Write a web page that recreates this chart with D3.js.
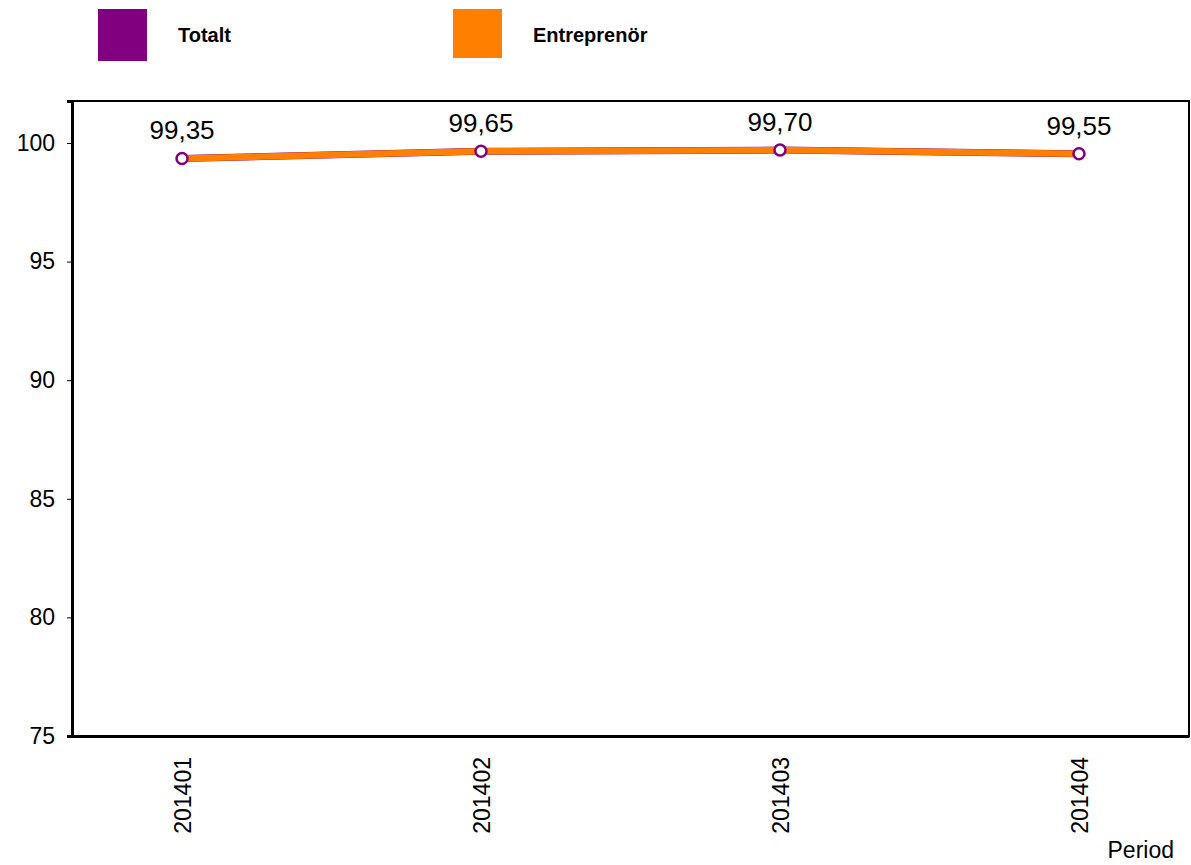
<!DOCTYPE html>
<html>
<head>
<meta charset="utf-8">
<script src="https://cdn.jsdelivr.net/npm/d3@7"></script>
<style>
  body { margin: 0; background: #fff; }
  text { font-family: "Liberation Sans", Arial, sans-serif; }
</style>
</head>
<body>
<div id="chart"></div>
<script>
const periods = ["201401", "201402", "201403", "201404"];
const totalt = [99.35, 99.65, 99.70, 99.55];
const entreprenor = [99.35, 99.65, 99.70, 99.55];
const yTicks = [75, 80, 85, 90, 95, 100];
const seriesNames = ["Totalt", "Entreprenör"];
const seriesColors = ["#800080", "#ff8000"];

const width = 1191, height = 865;
const margin = { top: 101, right: 2, bottom: 129, left: 72 };

const svg = d3.select("#chart")
    .append("svg")
    .attr("width", width)
    .attr("height", height);

const x = d3.scalePoint()
    .domain(periods)
    .range([margin.left, width - margin.right])
    .padding(0.368);

const y = d3.scaleLinear()
    .domain([75, 101.77])
    .range([height - margin.bottom, margin.top]);

// frame
svg.append("rect")
    .attr("x", margin.left)
    .attr("y", margin.top)
    .attr("width", width - margin.right - margin.left)
    .attr("height", height - margin.bottom - margin.top)
    .attr("fill", "none")
    .attr("stroke", "#000")
    .attr("stroke-width", 2);

// y axis
const yAxis = svg.append("g")
    .attr("transform", `translate(${margin.left},0)`)
    .call(d3.axisLeft(y).tickValues(yTicks).tickSize(5).tickPadding(12).tickFormat(d3.format("d")));
yAxis.select(".domain").attr("stroke-width", 3);
yAxis.selectAll("text").attr("font-size", 23).attr("fill", "#000")
    .style("font-family", '"Liberation Sans", Arial, sans-serif');

// x axis
const xAxis = svg.append("g")
    .attr("transform", `translate(0,${height - margin.bottom})`)
    .call(d3.axisBottom(x).tickSize(0).tickPadding(0));
xAxis.select(".domain").attr("stroke-width", 3);
xAxis.selectAll("text")
    .attr("font-size", 23)
    .attr("fill", "#000")
    .style("font-family", '"Liberation Sans", Arial, sans-serif')
    .attr("text-anchor", "end")
    .attr("dy", "0.35em")
    .attr("transform", "translate(0,21) rotate(-90)");

svg.append("text")
    .attr("x", 1174)
    .attr("y", 858)
    .attr("text-anchor", "end")
    .attr("font-size", 23)
    .text("Period");

// lines
const line = d3.line()
    .x((d, i) => x(periods[i]))
    .y(d => y(d));

svg.append("path")
    .datum(totalt)
    .attr("d", line)
    .attr("fill", "none")
    .attr("stroke", seriesColors[0])
    .attr("stroke-width", 7);

svg.append("path")
    .datum(entreprenor)
    .attr("d", line)
    .attr("fill", "none")
    .attr("stroke", seriesColors[1])
    .attr("stroke-width", 6.5);

// markers
svg.selectAll("circle.pt")
    .data(totalt)
    .enter().append("circle")
    .attr("class", "pt")
    .attr("cx", (d, i) => x(periods[i]))
    .attr("cy", d => y(d))
    .attr("r", 5.5)
    .attr("fill", "#fff")
    .attr("stroke", seriesColors[0])
    .attr("stroke-width", 2.5);

// value labels
svg.selectAll("text.val")
    .data(totalt)
    .enter().append("text")
    .attr("class", "val")
    .attr("x", (d, i) => x(periods[i]))
    .attr("y", d => y(d) - 19)
    .attr("text-anchor", "middle")
    .attr("font-size", 26)
    .text(d => d3.format(".2f")(d).replace(".", ","));

// legend
const legendX = [98, 453];
seriesNames.forEach((name, i) => {
    svg.append("rect")
        .attr("x", legendX[i])
        .attr("y", 9)
        .attr("width", 49)
        .attr("height", i === 0 ? 52 : 49)
        .attr("fill", seriesColors[i]);
    svg.append("text")
        .attr("x", legendX[i] + 80)
        .attr("y", 42)
        .attr("font-size", 20)
        .attr("font-weight", "bold")
        .text(name);
});
</script>
</body>
</html>
